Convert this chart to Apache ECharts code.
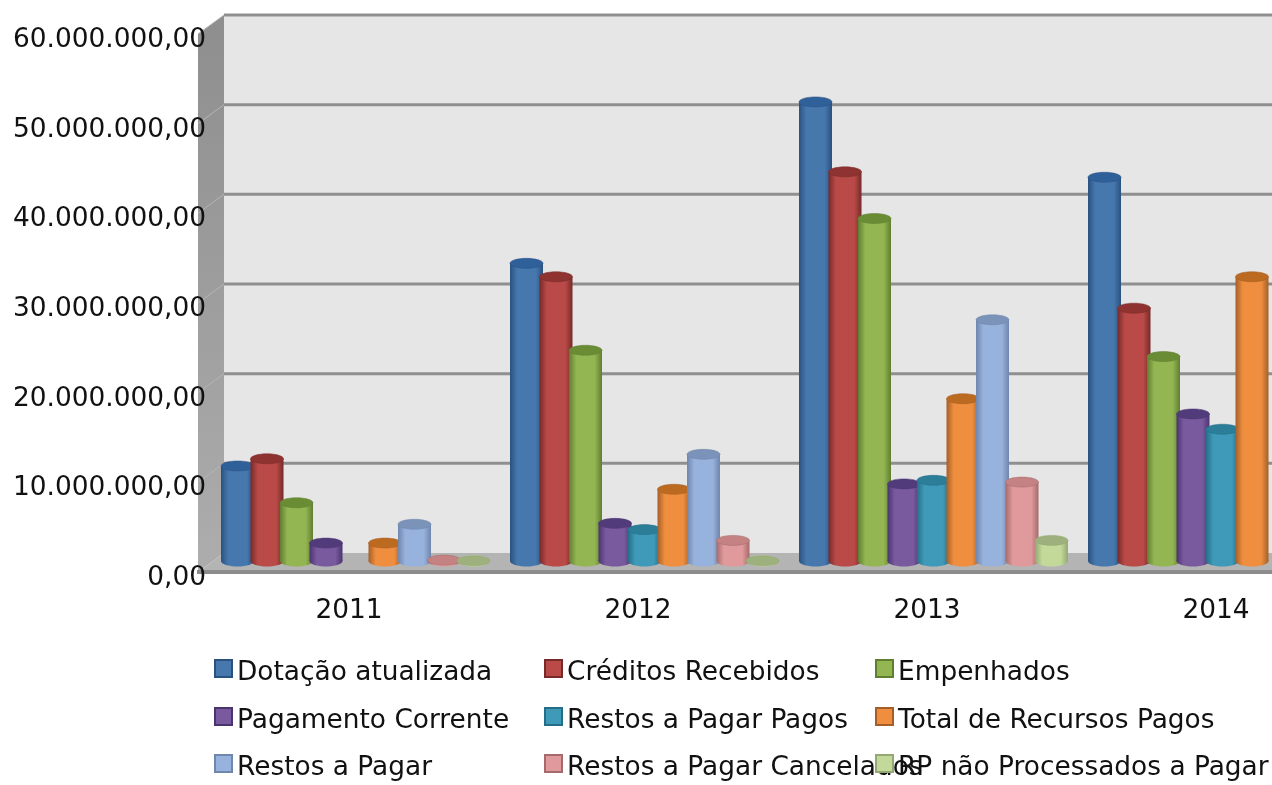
<!DOCTYPE html>
<html>
<head>
<meta charset="utf-8">
<style>
html, body { margin: 0; padding: 0; background: #fff; overflow: hidden; }
#chart { width: 1272px; height: 785px; }
</style>
<script src="https://cdn.jsdelivr.net/npm/echarts@6/dist/echarts.min.js"></script>
</head>
<body>
<div id="chart"></div>
<script>
// anos
const categories = ['2011', '2012', '2013', '2014'];
const yTicks = [0, 10000000, 20000000, 30000000, 40000000, 50000000, 60000000];

// valores (2014 corta na borda direita)
const dotacao = [10600000, 33200000, 51200000, 42800000];
const creditos = [11400000, 31700000, 43400000, 28200000];
const empenhados = [6500000, 23500000, 38200000, 22800000];
const pagamento = [2000000, 4200000, 8600000, 16400000];
const restosPagos = [0, 3500000, 9000000, 14700000];
const totalPagos = [2000000, 8000000, 18100000, 31700000];
const restosPagar = [4100000, 11900000, 26900000, 0];
const restosCancelados = [100000, 2300000, 8800000, 0];
const rpNaoProcessados = [20000, 20000, 2300000, 0];

const names = [
    'Dotação atualizada', 'Créditos Recebidos', 'Empenhados',
    'Pagamento Corrente', 'Restos a Pagar Pagos', 'Total de Recursos Pagos',
    'Restos a Pagar', 'Restos a Pagar Cancelados', 'RP não Processados a Pagar'
];
const values = [
    dotacao, creditos, empenhados,
    pagamento, restosPagos, totalPagos,
    restosPagar, restosCancelados, rpNaoProcessados
];

// corpo, borda escura, topo
const colors = [
    ['#4678ad', '#2a5180', '#30609a'],
    ['#b94a47', '#762a29', '#8f3331'],
    ['#93b552', '#5f7f30', '#6a8c35'],
    ['#7a5a9e', '#4a3470', '#513b7a'],
    ['#3e9ab8', '#256e88', '#2b7d98'],
    ['#ee8e3e', '#a65e28', '#bb6a20'],
    ['#97b2dc', '#6f86ad', '#7b93b9'],
    ['#e09a9b', '#a56a6b', '#c48283'],
    ['#c3d99a', '#93a873', '#9db07d']
];

const depthX = 26;
const depthY = 19;
const barPitch = 29.5;
const barRadius = 16.5;
const ellipseRy = 5;

function formatMoney(v) {
    return v.toLocaleString('de-DE', { minimumFractionDigits: 2, maximumFractionDigits: 2 });
}

// paredes e chao
function renderWalls(params, api) {
    const cs = params.coordSys;
    const y0 = api.coord([0, 0])[1];
    const yTop = api.coord([0, yTicks[yTicks.length - 1]])[1];
    const xL = cs.x;
    const xB = xL + depthX;
    const xR = cs.x + cs.width;
    const gridStyle = { stroke: '#8f8f8f', lineWidth: 3, fill: null };
    const children = [
        {
            type: 'polygon',
            shape: { points: [[xB, yTop - depthY], [xR, yTop - depthY], [xR, y0 - depthY], [xB, y0 - depthY]] },
            style: { fill: '#e6e6e6' }
        },
        {
            type: 'polygon',
            shape: { points: [[xL, yTop], [xB, yTop - depthY], [xB, y0 - depthY], [xL, y0]] },
            style: {
                fill: new echarts.graphic.LinearGradient(0, 0, 0, 1, [
                    { offset: 0, color: '#8e8e8e' },
                    { offset: 1, color: '#adadad' }
                ])
            }
        },
        {
            type: 'polygon',
            shape: { points: [[xL, y0], [xB, y0 - depthY], [xR, y0 - depthY], [xR, y0]] },
            style: { fill: '#b4b4b4' }
        }
    ];
    yTicks.forEach(function (t) {
        const y = api.coord([0, t])[1];
        if (t > 0) {
            children.push({
                type: 'line',
                shape: { x1: xB, y1: y - depthY, x2: xR, y2: y - depthY },
                style: gridStyle
            });
            children.push({
                type: 'line',
                shape: { x1: xL, y1: y, x2: xB, y2: y - depthY },
                style: { stroke: '#b5b5b5', lineWidth: 1 }
            });
        }
    });
    children.push({
        type: 'line',
        shape: { x1: xL - 1, y1: y0, x2: xR, y2: y0 },
        style: { stroke: '#8c8c8c', lineWidth: 4 }
    });
    return { type: 'group', silent: true, children: children };
}

// cilindro de cada serie
function makeRender(index) {
    const c = colors[index];
    return function (params, api) {
        const v = api.value(1);
        if (!v) return null;
        const front = api.coord([api.value(0), v]);
        const base = api.coord([api.value(0), 0]);
        const cx = front[0] + (index - 4) * barPitch + depthX / 2;
        const yTop = front[1] - depthY / 2 - 1.5;
        const yBase = base[1] - depthY / 2 - 1.5;
        const body = new echarts.graphic.LinearGradient(0, 0, 1, 0, [
            { offset: 0, color: c[1] },
            { offset: 0.22, color: c[0] },
            { offset: 0.78, color: c[0] },
            { offset: 1, color: c[1] }
        ]);
        return {
            type: 'group',
            children: [
                {
                    type: 'ellipse',
                    shape: { cx: cx, cy: yBase, rx: barRadius, ry: ellipseRy + 0.5 },
                    style: { fill: body }
                },
                {
                    type: 'rect',
                    shape: { x: cx - barRadius, y: yTop, width: barRadius * 2, height: yBase - yTop },
                    style: { fill: body }
                },
                {
                    type: 'ellipse',
                    shape: { cx: cx, cy: yTop, rx: barRadius, ry: ellipseRy },
                    style: { fill: c[2], stroke: c[1], lineWidth: 0.5 }
                }
            ]
        };
    };
}

const legendLeft = [214, 544, 875];
const legendTop = [659, 707, 754];

const option = {
    animation: false,
    backgroundColor: '#ffffff',
    textStyle: { fontFamily: 'DejaVu Sans' },
    grid: { left: 198, top: 34, width: 1156, height: 538, outerBoundsMode: 'none' },
    legend: names.map(function (name, i) {
        return {
            data: [name],
            left: legendLeft[i % 3],
            top: legendTop[Math.floor(i / 3)],
            padding: 0,
            itemWidth: 17,
            itemHeight: 26,
            selectedMode: false,
            // quadrado na parte de cima da caixa, o texto fica um pouco abaixo
            icon: 'path://M0 0H17V17H0Z M0 26h0',
            textStyle: { fontSize: 26.4, color: '#111', fontFamily: 'DejaVu Sans' }
        };
    }),
    xAxis: {
        type: 'category',
        data: categories,
        axisLine: { show: false },
        axisTick: { show: false },
        axisLabel: { fontSize: 26.4, color: '#111', margin: 26, padding: [0, 0, 0, 13], fontFamily: 'DejaVu Sans' }
    },
    yAxis: {
        type: 'value',
        min: 0,
        max: 60000000,
        interval: 10000000,
        z: 10,
        axisLine: { show: false },
        axisTick: { show: false },
        splitLine: { show: false },
        axisLabel: {
            fontSize: 26.4,
            color: '#111',
            margin: -8,
            verticalAlign: 'top',
            lineHeight: 12,
            fontFamily: 'DejaVu Sans',
            formatter: formatMoney
        }
    },
    series: [
        {
            type: 'custom',
            name: 'paredes',
            z: 1,
            silent: true,
            renderItem: renderWalls,
            data: [[0, 0]]
        }
    ].concat(names.map(function (name, i) {
        return {
            type: 'custom',
            name: name,
            z: 3,
            renderItem: makeRender(i),
            itemStyle: { color: colors[i][0], borderColor: colors[i][1], borderWidth: 2 },
            data: values[i].map(function (v, k) { return [k, v]; })
        };
    }))
};

const myChart = echarts.init(document.getElementById('chart'), null, { renderer: 'canvas' });
myChart.setOption(option);
</script>
</body>
</html>
